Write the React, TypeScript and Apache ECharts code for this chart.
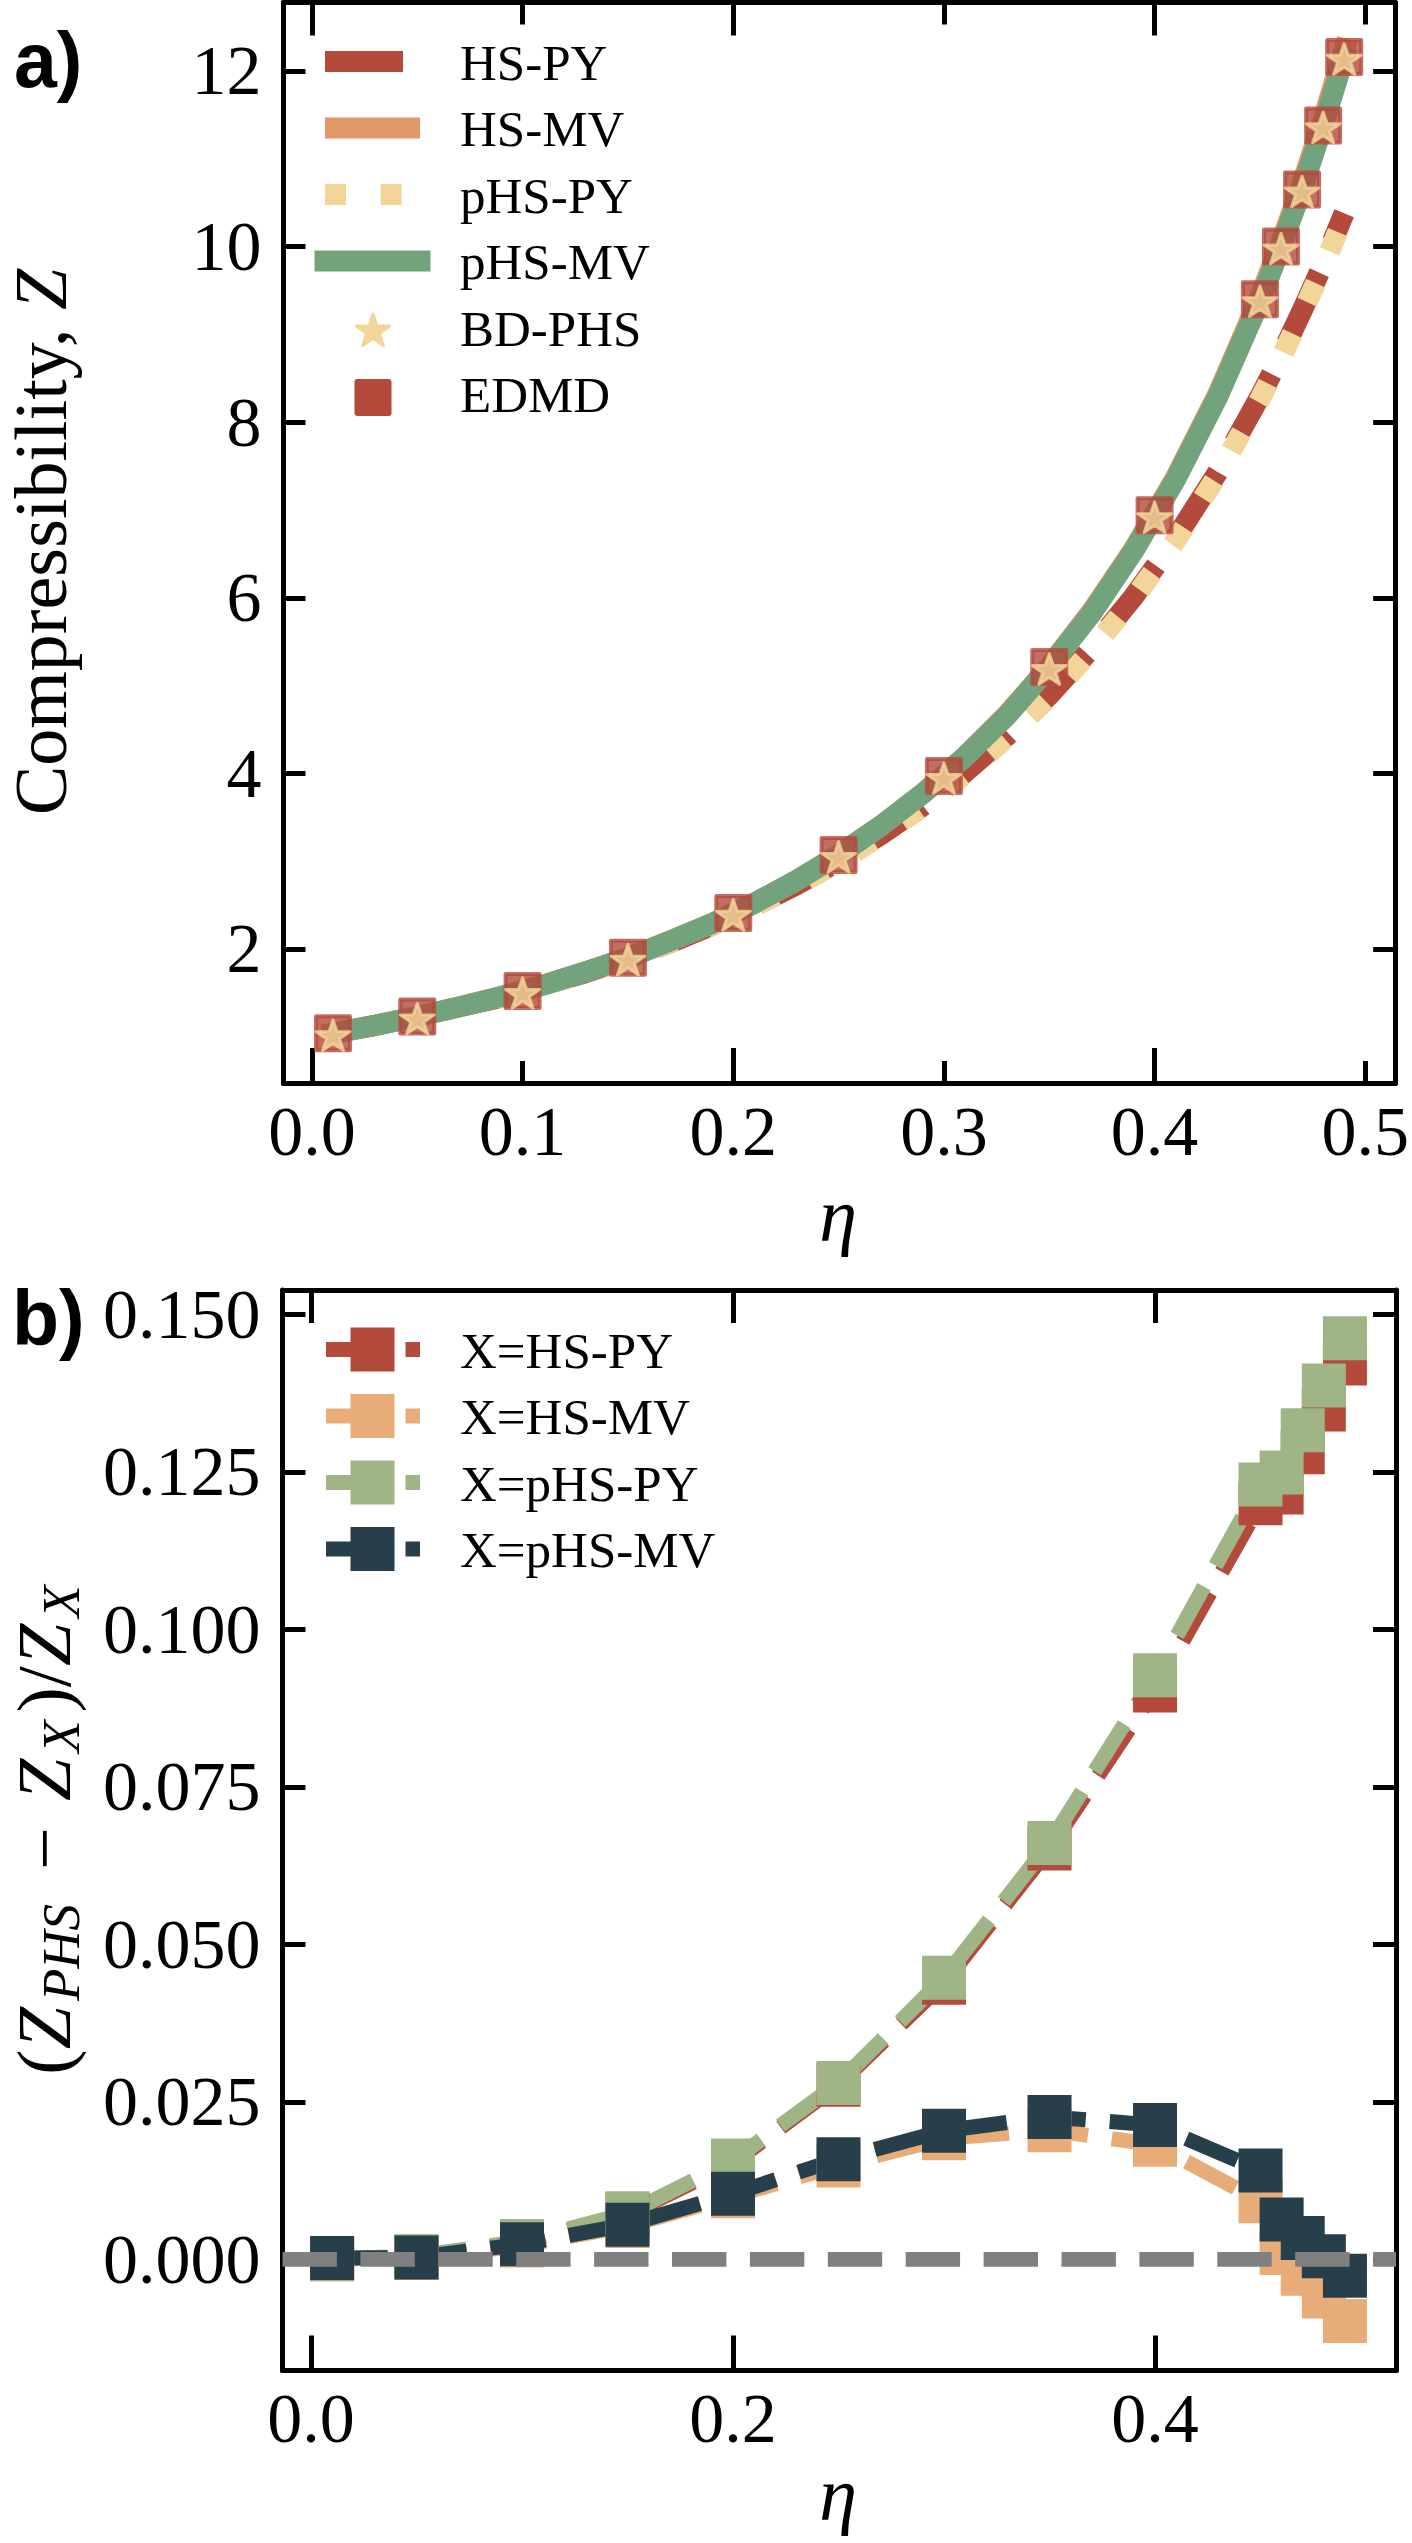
import React, { useEffect, useRef } from 'react';
import * as echarts from 'echarts';

// ---------- data ----------
const etaLine = [0.01, 0.03, 0.05, 0.07, 0.09, 0.11, 0.13, 0.15, 0.17, 0.19, 0.21, 0.23, 0.25, 0.27, 0.29, 0.31, 0.33, 0.35, 0.37, 0.39, 0.41, 0.43, 0.45, 0.46, 0.47, 0.48, 0.49];
const zHsPy = [1.04, 1.13, 1.23, 1.34, 1.45, 1.59, 1.73, 1.89, 2.07, 2.27, 2.49, 2.73, 3.0, 3.3, 3.63, 4.01, 4.43, 4.89, 5.42, 6.01, 6.68, 7.43, 8.29, 8.76, 9.27, 9.8, 10.38];
const zHsMv = [1.04, 1.13, 1.23, 1.34, 1.46, 1.59, 1.74, 1.9, 2.09, 2.29, 2.52, 2.78, 3.07, 3.4, 3.77, 4.19, 4.67, 5.22, 5.84, 6.55, 7.37, 8.32, 9.43, 10.05, 10.72, 11.45, 12.25];
const zPhsPy = [1.04, 1.13, 1.23, 1.34, 1.45, 1.59, 1.73, 1.89, 2.07, 2.27, 2.49, 2.72, 2.99, 3.29, 3.62, 3.99, 4.41, 4.87, 5.4, 5.99, 6.65, 7.4, 8.26, 8.73, 9.24, 9.77, 10.34];
const zPhsMv = [1.04, 1.13, 1.23, 1.34, 1.46, 1.59, 1.74, 1.9, 2.09, 2.29, 2.52, 2.78, 3.07, 3.4, 3.77, 4.19, 4.66, 5.21, 5.82, 6.53, 7.35, 8.29, 9.38, 10.0, 10.66, 11.38, 12.16];

const etaSim = [0.01, 0.05, 0.1, 0.15, 0.2, 0.25, 0.3, 0.35, 0.4, 0.45, 0.46, 0.47, 0.48, 0.49];
const zEdmd = [1.04, 1.23, 1.52, 1.9, 2.41, 3.07, 3.97, 5.21, 6.94, 9.4, 10.0, 10.65, 11.38, 12.16];
const zBdPhs = [1.04, 1.23, 1.52, 1.9, 2.41, 3.07, 3.97, 5.21, 6.94, 9.4, 10.0, 10.65, 11.38, 12.16];

const devHsPy = [0.0, 0.0004, 0.0027, 0.0071, 0.0153, 0.0277, 0.0439, 0.0652, 0.0903, 0.12, 0.1217, 0.1281, 0.1349, 0.1422];
const devHsMv = [0.0001, 0.0002, 0.0022, 0.0053, 0.01, 0.0149, 0.0192, 0.0205, 0.0182, 0.0092, 0.001, -0.0023, -0.0059, -0.0098];
const devPhsPy = [0.0001, 0.0005, 0.0029, 0.0073, 0.0157, 0.028, 0.0447, 0.0661, 0.0927, 0.123, 0.1249, 0.1316, 0.1387, 0.1462];
const devPhsMv = [0.0002, 0.0003, 0.0024, 0.0055, 0.0104, 0.0159, 0.0204, 0.0226, 0.0213, 0.0141, 0.0063, 0.0034, 0.0005, -0.0026];

const xTicksA = [0, 0.1, 0.2, 0.3, 0.4, 0.5];
const xTicksLong = [0, 0.2, 0.4];
const yTicksA = [2, 4, 6, 8, 10, 12];
const yTicksB = [0, 0.025, 0.05, 0.075, 0.1, 0.125, 0.15];

const legendA = ['HS-PY', 'HS-MV', 'pHS-PY', 'pHS-MV', 'BD-PHS', 'EDMD'];
const legendB = ['X=HS-PY', 'X=HS-MV', 'X=pHS-PY', 'X=pHS-MV'];

// ---------- styles ----------
const RED = '#b34a3c';
const ORANGE = '#e19767';
const YELLOW = '#f3d59a';
const GREEN = '#72a37d';
const B_RED = '#b34a3c';
const B_ORANGE = '#e8ac78';
const B_GREEN = '#a0b585';
const B_DARK = '#273f4a';
const GRAY = '#808080';

const X_MIN = -0.0135;
const X_MAX = 0.5142;
const A_Y_MIN = 0.473;
const A_Y_MAX = 12.78;
const B_Y_MIN = -0.01765;
const B_Y_MAX = 0.15386;

const SERIF = "'Liberation Serif', 'Times New Roman', serif";
const SANS = "'Liberation Sans', Arial, sans-serif";

const STAR = 'path://M50,0L61.23,34.55L97.55,34.55L68.17,55.9L79.39,90.45L50,69.1L20.61,90.45L31.83,55.9L2.45,34.55L38.77,34.55Z';

const pairs = (xs: number[], ys: number[]) => xs.map((x, i) => [x, ys[i]]);

function starPoints(cx: number, cy: number, R: number): number[][] {
  const r = R * 0.381966;
  const pts: number[][] = [];
  for (let k = 0; k < 10; k++) {
    const ang = Math.PI / 2 - (k * Math.PI) / 5;
    const rad = k % 2 === 0 ? R : r;
    pts.push([cx + rad * Math.cos(ang), cy - rad * Math.sin(ang)]);
  }
  return pts;
}

function xAxisDef(gridIndex: number, position: string, min: number, max: number, ticks: number[], len: number, labels: boolean, fmt?: (v: number) => string) {
  return {
    type: 'value',
    gridIndex,
    position,
    min,
    max,
    axisLine: { show: true, onZero: false, lineStyle: { color: '#000', width: 5 } },
    axisTick: { show: true, inside: true, length: len, customValues: ticks, lineStyle: { color: '#000', width: 5 } },
    axisLabel: labels
      ? { show: true, customValues: ticks, formatter: fmt, margin: 13, fontFamily: SERIF, fontSize: 70, color: '#000' }
      : { show: false },
    splitLine: { show: false },
  };
}

function yAxisDef(gridIndex: number, position: string, min: number, max: number, ticks: number[], len: number, labels: boolean, fmt?: (v: number) => string) {
  return {
    type: 'value',
    gridIndex,
    position,
    min,
    max,
    axisLine: { show: true, onZero: false, lineStyle: { color: '#000', width: 5 } },
    axisTick: { show: true, inside: true, length: len, customValues: ticks, lineStyle: { color: '#000', width: 5 } },
    axisLabel: labels
      ? { show: true, customValues: ticks, formatter: fmt, margin: 22, fontFamily: SERIF, fontSize: 70, color: '#000' }
      : { show: false },
    splitLine: { show: false },
  };
}

function buildOption() {
  const fmt1 = (v: number) => v.toFixed(1);
  const fmt0 = (v: number) => String(Math.round(v));
  const fmt3 = (v: number) => v.toFixed(3);

  const xAxis = [
    xAxisDef(0, 'bottom', X_MIN, X_MAX, xTicksA, 22, true, fmt1),
    xAxisDef(0, 'bottom', X_MIN, X_MAX, xTicksLong, 35, false),
    xAxisDef(0, 'top', X_MIN, X_MAX, xTicksA, 22, false),
    xAxisDef(0, 'top', X_MIN, X_MAX, xTicksLong, 33, false),
    xAxisDef(1, 'bottom', X_MIN, X_MAX, xTicksLong, 35, true, fmt1),
    xAxisDef(1, 'top', X_MIN, X_MAX, xTicksLong, 33, false),
  ];
  const yAxis = [
    yAxisDef(0, 'left', A_Y_MIN, A_Y_MAX, yTicksA, 22, true, fmt0),
    yAxisDef(0, 'right', A_Y_MIN, A_Y_MAX, yTicksA, 22, false),
    yAxisDef(1, 'left', B_Y_MIN, B_Y_MAX, yTicksB, 23, true, fmt3),
    yAxisDef(1, 'right', B_Y_MIN, B_Y_MAX, yTicksB, 23, false),
  ];

  const lineA = (data: number[][], color: string, type: any, cap: string) => ({
    type: 'line',
    xAxisIndex: 0,
    yAxisIndex: 0,
    data,
    symbol: 'none',
    showSymbol: false,
    silent: true,
    z: 2,
    lineStyle: { color, width: 21, type, cap, join: 'round' },
  });

  const lineB = (data: number[][], color: string) => ({
    type: 'line',
    xAxisIndex: 4,
    yAxisIndex: 2,
    data,
    symbol: 'rect',
    symbolSize: 44,
    showSymbol: true,
    silent: true,
    z: 3,
    itemStyle: { color },
    lineStyle: { color, width: 15, type: [55.5, 24], cap: 'butt', join: 'round' },
  });

  const series: any[] = [
    lineA(pairs(etaLine, zHsPy), RED, [78, 34], 'butt'),
    lineA(pairs(etaLine, zHsMv), ORANGE, 'solid', 'square'),
    lineA(pairs(etaLine, zPhsPy), YELLOW, [21, 34.6], 'butt'),
    lineA(pairs(etaLine, zPhsMv), GREEN, 'solid', 'square'),
    {
      type: 'scatter',
      xAxisIndex: 0,
      yAxisIndex: 0,
      data: pairs(etaSim, zEdmd),
      symbol: 'rect',
      symbolSize: 34,
      silent: true,
      z: 6,
      itemStyle: { color: RED, borderColor: RED, borderWidth: 4, borderJoin: 'round' },
    },
    {
      type: 'scatter',
      xAxisIndex: 0,
      yAxisIndex: 0,
      data: pairs(etaSim, zBdPhs),
      symbol: STAR,
      symbolSize: [34, 32.3],
      symbolKeepAspect: true,
      symbolOffset: [0, 2],
      silent: true,
      z: 7,
      itemStyle: { color: YELLOW, borderColor: YELLOW, borderWidth: 3, borderJoin: 'round' },
    },
    lineB(pairs(etaSim, devHsPy), B_RED),
    lineB(pairs(etaSim, devHsMv), B_ORANGE),
    lineB(pairs(etaSim, devPhsPy), B_GREEN),
    lineB(pairs(etaSim, devPhsMv), B_DARK),
    {
      type: 'line',
      xAxisIndex: 4,
      yAxisIndex: 2,
      data: [[X_MIN, 0], [X_MAX, 0]],
      symbol: 'none',
      silent: true,
      lineStyle: { color: GRAY, width: 14.7, type: [54.4, 23.5], cap: 'butt' },
      z: 8,
    },
  ];

  const g: any[] = [];
  // legend a
  const rowA = (i: number) => 61.5 + 66.5 * i;
  g.push({ type: 'line', shape: { x1: 325, y1: rowA(0), x2: 420, y2: rowA(0) }, style: { stroke: RED, lineWidth: 21, lineDash: [78, 34] } });
  g.push({ type: 'line', shape: { x1: 325, y1: rowA(1), x2: 420, y2: rowA(1) }, style: { stroke: ORANGE, lineWidth: 21 } });
  g.push({ type: 'line', shape: { x1: 325, y1: rowA(2), x2: 420, y2: rowA(2) }, style: { stroke: YELLOW, lineWidth: 21, lineDash: [21, 34.6] } });
  g.push({ type: 'line', shape: { x1: 325, y1: rowA(3), x2: 420, y2: rowA(3) }, style: { stroke: GREEN, lineWidth: 21, lineCap: 'square' } });
  g.push({ type: 'polygon', shape: { points: starPoints(373, 331.5, 17.5) }, style: { fill: YELLOW, stroke: YELLOW, lineWidth: 3, lineJoin: 'round' } });
  g.push({ type: 'rect', shape: { x: 354.5, y: 379, width: 37, height: 37, r: 3 }, style: { fill: RED } });
  legendA.forEach((t, i) => {
    g.push({ type: 'text', x: 460, y: 62.5 + 66.5 * i, style: { text: t, fontFamily: SERIF, fontSize: 51, fill: '#000', textAlign: 'left', textVerticalAlign: 'middle' } });
  });

  // legend b
  const colorsB = [B_RED, B_ORANGE, B_GREEN, B_DARK];
  legendB.forEach((t, i) => {
    const y = 1349.5 + 66.5 * i;
    g.push({ type: 'line', shape: { x1: 326, y1: y, x2: 420, y2: y }, style: { stroke: colorsB[i], lineWidth: 15, lineDash: [55.5, 24] } });
    g.push({ type: 'rect', shape: { x: 350.5, y: y - 22, width: 44, height: 44 }, style: { fill: colorsB[i] } });
    g.push({ type: 'text', x: 460, y: 1350.5 + 66.5 * i, style: { text: t, fontFamily: SERIF, fontSize: 51, fill: '#000', textAlign: 'left', textVerticalAlign: 'middle' } });
  });

  // panel labels
  g.push({ type: 'text', x: 14, y: 60, style: { text: 'a)', fontFamily: SANS, fontWeight: 'bold', fontSize: 77, fill: '#000', textAlign: 'left', textVerticalAlign: 'middle' } });
  g.push({ type: 'text', x: 12, y: 1318, style: { text: 'b)', fontFamily: SANS, fontWeight: 'bold', fontSize: 77, fill: '#000', textAlign: 'left', textVerticalAlign: 'middle' } });

  // axis titles
  g.push({ type: 'text', x: 838, y: 1215, style: { text: 'η', fontFamily: SERIF, fontStyle: 'italic', fontSize: 76, fill: '#000', textAlign: 'center', textVerticalAlign: 'middle' } });
  g.push({ type: 'text', x: 838, y: 2494, style: { text: 'η', fontFamily: SERIF, fontStyle: 'italic', fontSize: 76, fill: '#000', textAlign: 'center', textVerticalAlign: 'middle' } });
  g.push({
    type: 'text',
    x: 41,
    y: 542,
    rotation: Math.PI / 2,
    style: {
      text: 'Compressibility, {i|Z}',
      fontFamily: SERIF,
      fontSize: 74,
      fill: '#000',
      textAlign: 'center',
      textVerticalAlign: 'middle',
      rich: { i: { fontFamily: SERIF, fontStyle: 'italic', fontSize: 74, fill: '#000' } },
    },
  });
  g.push({
    type: 'text',
    x: 44,
    y: 1826,
    rotation: Math.PI / 2,
    style: {
      text: '({i|Z}{s|PHS} {m|−} {i|Z}{s|X})/{i|Z}{s|X}',
      fontFamily: SERIF,
      fontSize: 76,
      fill: '#000',
      textAlign: 'center',
      textVerticalAlign: 'middle',
      rich: {
        i: { fontFamily: SERIF, fontStyle: 'italic', fontSize: 76, fill: '#000', padding: [0, 6, 0, 0] },
        s: { fontFamily: SERIF, fontStyle: 'italic', fontSize: 53, fill: '#000', padding: [34, 8, 0, 0] },
        m: { fontFamily: SERIF, fontSize: 76, fill: '#000', padding: [0, 7, 0, 7] },
      },
    },
  });

  return {
    animation: false,
    backgroundColor: '#ffffff',
    grid: [
      { left: 283.5, top: 2.5, width: 1112.5, height: 1080.5, containLabel: false },
      { left: 282.5, top: 1290, width: 1113.5, height: 1080.5, containLabel: false },
    ],
    xAxis,
    yAxis,
    series,
    graphic: { elements: g.map((e) => ({ ...e, z: 100, silent: true })) },
  };
}

export default function App() {
  const ref = useRef<HTMLDivElement>(null);
  useEffect(() => {
    document.body.style.margin = '0';
    if (!ref.current) return;
    const chart = echarts.init(ref.current, null, { renderer: 'svg' });
    chart.setOption(buildOption() as any);
    return () => {
      chart.dispose();
    };
  }, []);
  return <div ref={ref} style={{ width: 1412, height: 2543, background: '#fff' }} />;
}
